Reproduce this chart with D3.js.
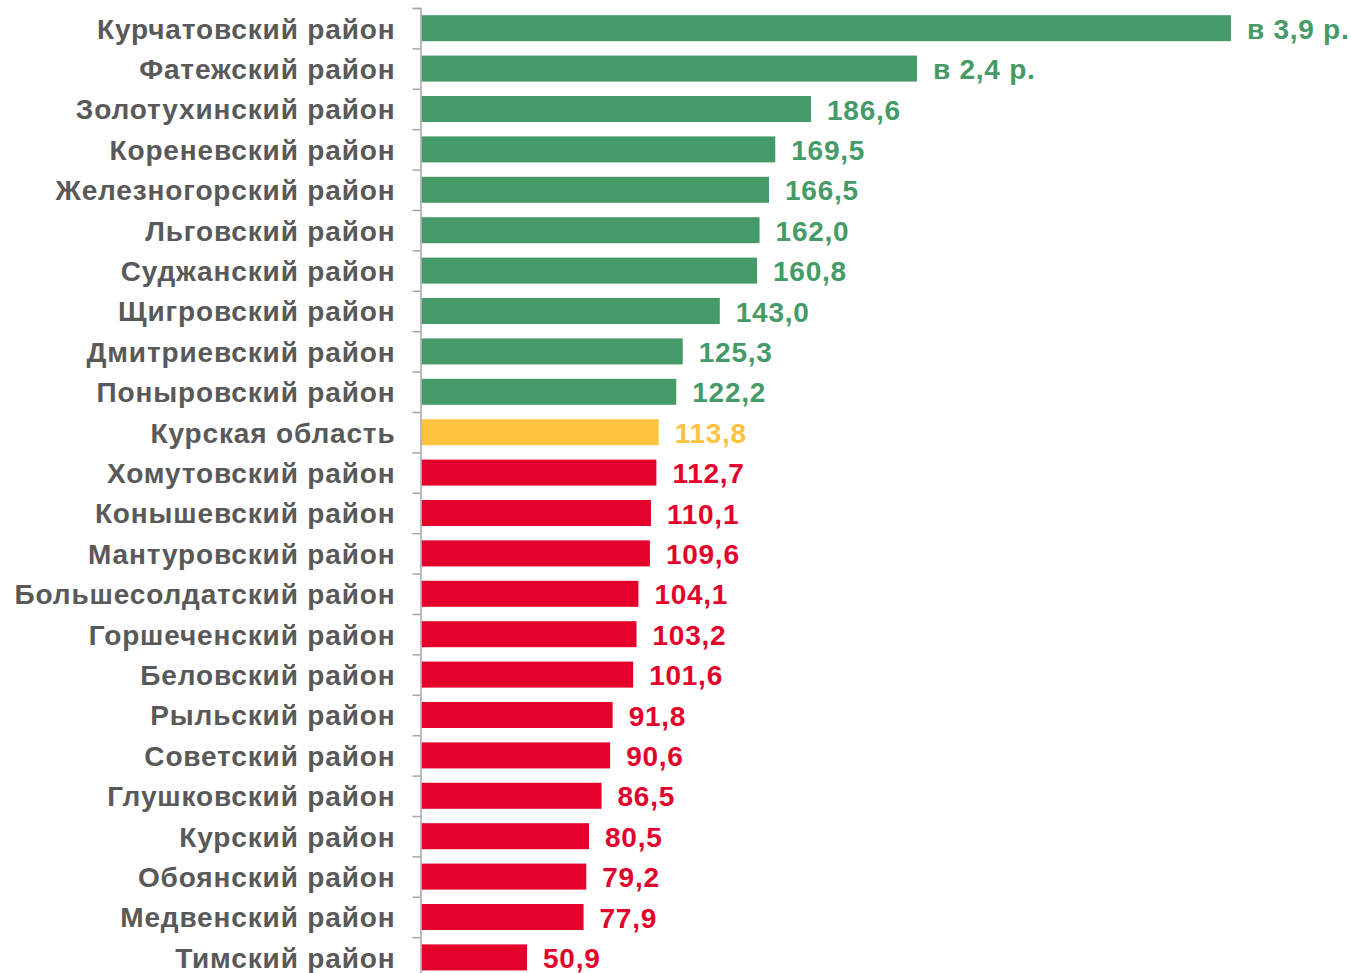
<!DOCTYPE html>
<html><head><meta charset="utf-8">
<script src="https://cdn.jsdelivr.net/npm/d3@7/dist/d3.min.js"></script>
<style>body{margin:0;background:#fff;}svg{display:block;}</style>
</head><body>
<script>
const categories = ["Курчатовский район","Фатежский район","Золотухинский район","Кореневский район","Железногорский район","Льговский район","Суджанский район","Щигровский район","Дмитриевский район","Поныровский район","Курская область","Хомутовский район","Конышевский район","Мантуровский район","Большесолдатский район","Горшеченский район","Беловский район","Рыльский район","Советский район","Глушковский район","Курский район","Обоянский район","Медвенский район","Тимский район"];
const values = [387.2,237.2,186.6,169.5,166.5,162.0,160.8,143.0,125.3,122.2,113.8,112.7,110.1,109.6,104.1,103.2,101.6,91.8,90.6,86.5,80.5,79.2,77.9,50.9];
const valueLabels = ["в 3,9 р.","в 2,4 р.","186,6","169,5","166,5","162,0","160,8","143,0","125,3","122,2","113,8","112,7","110,1","109,6","104,1","103,2","101,6","91,8","90,6","86,5","80,5","79,2","77,9","50,9"];
const groups = ["up","up","up","up","up","up","up","up","up","up","region","down","down","down","down","down","down","down","down","down","down","down","down","down"];

const colors = {up:"#459B67", region:"#FFC33F", down:"#E4002B"};
const W=1351,H=973;
const svg=d3.select("body").append("svg").attr("width",W).attr("height",H);
const x=d3.scaleLinear().domain([0,100]).range([420.5,629.8]);
const y=d3.scaleBand().domain(categories).range([8,977.6]).paddingInner(0.356).paddingOuter(0.178);

svg.selectAll("rect.bar").data(categories).enter().append("rect")
 .attr("x",x(0)+1).attr("y",d=>y(d)).attr("height",y.bandwidth())
 .attr("width",(d,i)=>x(values[i])-x(0)-1)
 .attr("fill",(d,i)=>colors[groups[i]]);

const ax=svg.append("g").attr("transform",`translate(${x(0)},0)`)
 .call(d3.axisLeft(d3.scaleLinear().domain([0,categories.length]).range([8,977.6])).ticks(categories.length).tickSize(8).tickFormat(""));
ax.select(".domain").attr("stroke","#a6a6a6").attr("stroke-width",1.5);
ax.selectAll(".tick line").attr("stroke","#a6a6a6").attr("stroke-width",1.5);

svg.selectAll("text.cat").data(categories).enter().append("text")
 .attr("x",395.5).attr("y",d=>y(d)+y.bandwidth()/2).attr("dy","0.37em")
 .attr("text-anchor","end").attr("font-family","Liberation Sans, Arial, sans-serif")
 .attr("font-weight","bold").attr("font-size",28).attr("letter-spacing","0.85px").attr("fill","#595959").text(d=>d);

svg.selectAll("text.val").data(categories).enter().append("text")
 .attr("x",(d,i)=>x(values[i])+16).attr("y",d=>y(d)+y.bandwidth()/2).attr("dy","0.38em")
 .attr("font-family","Liberation Sans, Arial, sans-serif")
 .attr("font-weight","bold").attr("font-size",28).attr("letter-spacing","0.75px").attr("fill",(d,i)=>colors[groups[i]]).text((d,i)=>valueLabels[i]);
</script>
</body></html>
